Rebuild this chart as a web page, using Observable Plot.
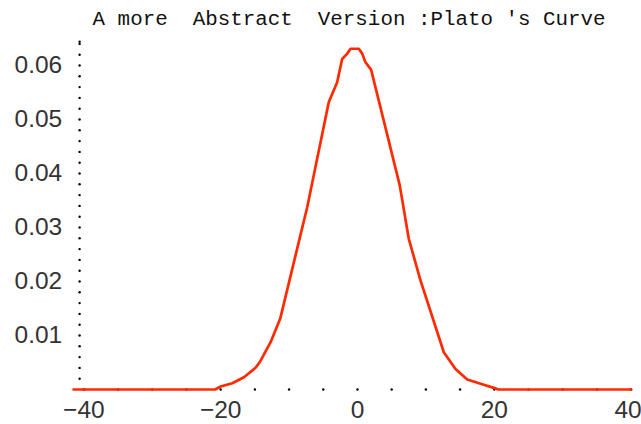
<!DOCTYPE html>
<html>
<head>
<meta charset="utf-8">
<script src="https://cdn.jsdelivr.net/npm/d3@7"></script>
<script src="https://cdn.jsdelivr.net/npm/@observablehq/plot@0.6"></script>
<style>
  html, body { margin: 0; padding: 0; background: #fff; }
  #chart { width: 641px; height: 424px; }
</style>
</head>
<body>
<div id="chart"></div>
<script>
const title = "A more  Abstract  Version :Plato 's Curve";

// curve vertices (x, density)
const xs = [-41.5, -20.8, -20.0, -18.3, -16.6, -14.9, -14.2, -12.7, -11.3, -7.35, -4.2, -2.97, -2.24, -1.5, -1.02,
            0.19, 0.69, 1.17, 2.0, 6.18, 7.5, 9.21, 12.62, 14.33, 16.04, 18.46, 19.93, 20.6, 40];
const ys = [0, 0, 0.00056, 0.00117, 0.00228, 0.00402, 0.00524, 0.00876, 0.01309, 0.03376, 0.0532, 0.0569, 0.0612, 0.0622, 0.0631,
            0.0631, 0.0622, 0.0606, 0.0592, 0.0378, 0.0279, 0.0202, 0.0069, 0.0038, 0.00185, 0.00087, 0.0003, 0, 0];

const xTickLabels = [-40, -20, 0, 20];
const xTickLabelsEdge = [40];
const yTickLabels = [0.01, 0.02, 0.03, 0.04, 0.05, 0.06];
const xTickDots = d3.range(-40, 41, 5);
const yTickDots = d3.range(1, 33).map(i => i * 0.002).concat([0.0644]);

const curve = xs.map((x, i) => ({x, y: ys[i]}));

const fmtX = d => d < 0 ? "\u2212" + (-d) : String(d);
const labelStyle = {tickSize: 0, fontSize: 24.5, fontFamily: "Liberation Sans", fill: "#333", label: null};

const chart = Plot.plot({
  width: 641,
  height: 424,
  marginLeft: 73.1,
  marginRight: 10.4,
  marginTop: 40.7,
  marginBottom: 35,
  style: {background: "#fff", overflow: "visible"},
  x: {domain: [-41.5, 40]},
  y: {domain: [0, 0.0645]},
  marks: [
    Plot.axisX({...labelStyle, ticks: xTickLabels, tickPadding: 11, tickFormat: fmtX}),
    Plot.axisX({...labelStyle, ticks: xTickLabelsEdge, tickPadding: 11, tickFormat: fmtX, dx: -3}),
    Plot.axisY({...labelStyle, ticks: yTickLabels, tickPadding: 11.4, tickFormat: d => d.toFixed(2)}),
    Plot.dot(xTickDots, {x: d => d, y: () => 0, r: 1.2, fill: "#000", stroke: "none"}),
    Plot.dot(yTickDots, {y: d => d, frameAnchor: "left", dx: 6, r: 1.2, fill: "#000", stroke: "none"}),
    Plot.line(curve, {x: "x", y: "y", stroke: "#ff2a00", strokeWidth: 2.7, strokeLinejoin: "round"}),
    Plot.text([title], {text: d => d, frameAnchor: "top-left", dx: 19, dy: -22.5, textAnchor: "start",
      lineAnchor: "middle", fontSize: 20.5, fontFamily: "Liberation Mono", fill: "#111", className: "ttl"})
  ]
});
document.getElementById("chart").appendChild(chart);
const t = chart.querySelector(".ttl text");
if (t) { t.setAttribute("textLength", 513); t.setAttribute("lengthAdjust", "spacingAndGlyphs"); }
</script>
</body>
</html>
